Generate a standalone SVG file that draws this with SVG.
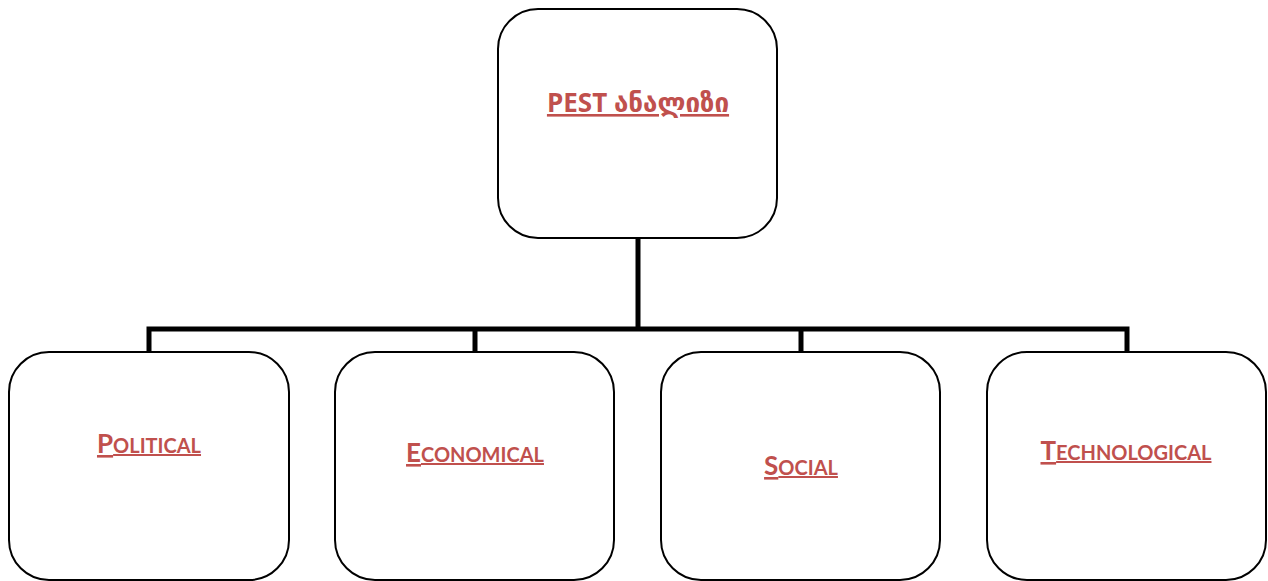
<svg xmlns="http://www.w3.org/2000/svg" width="1268" height="581" viewBox="0 0 1268 581">
<style>
.node{fill:#fff;stroke:#000;stroke-width:2}
.conn{fill:none;stroke:#000;stroke-width:5;stroke-linecap:butt;stroke-linejoin:miter}
.lbl{font-family:Lato,"Open Sans","DejaVu Sans",sans-serif;font-weight:bold;fill:#C0504D;text-anchor:middle;text-decoration:underline;font-size:20px}
.big{font-size:26px}
.sm{font-size:20px}
</style>
<rect width="1268" height="581" fill="#fff"/>
<g id="connectors">
<path class="conn" d="M638 238V329"/>
<path class="conn" d="M149 353V329H1127V353"/>
<path class="conn" d="M475 329V353"/>
<path class="conn" d="M801 329V353"/>
</g>
<g id="node-pest">
<rect class="node" x="498" y="9" width="279" height="229" rx="40"/>
<text class="lbl big" x="638" y="112" style="font-family:'Open Sans','DejaVu Sans',sans-serif">PEST ანალიზი</text>
</g>
<g id="node-political">
<rect class="node" x="9" y="352" width="280" height="228" rx="40"/>
<text class="lbl" x="149" y="453"><tspan class="big">P</tspan><tspan class="sm">OLITICAL</tspan></text>
</g>
<g id="node-economical">
<rect class="node" x="335" y="352" width="279" height="228" rx="40"/>
<text class="lbl" x="475" y="462"><tspan class="big">E</tspan><tspan class="sm">CONOMICAL</tspan></text>
</g>
<g id="node-social">
<rect class="node" x="661" y="352" width="279" height="228" rx="40"/>
<text class="lbl" x="801" y="475"><tspan class="big">S</tspan><tspan class="sm">OCIAL</tspan></text>
</g>
<g id="node-technological">
<rect class="node" x="987" y="352" width="279" height="228" rx="40"/>
<text class="lbl" x="1126" y="460"><tspan class="big">T</tspan><tspan class="sm">ECHNOLOGICAL</tspan></text>
</g>
</svg>
